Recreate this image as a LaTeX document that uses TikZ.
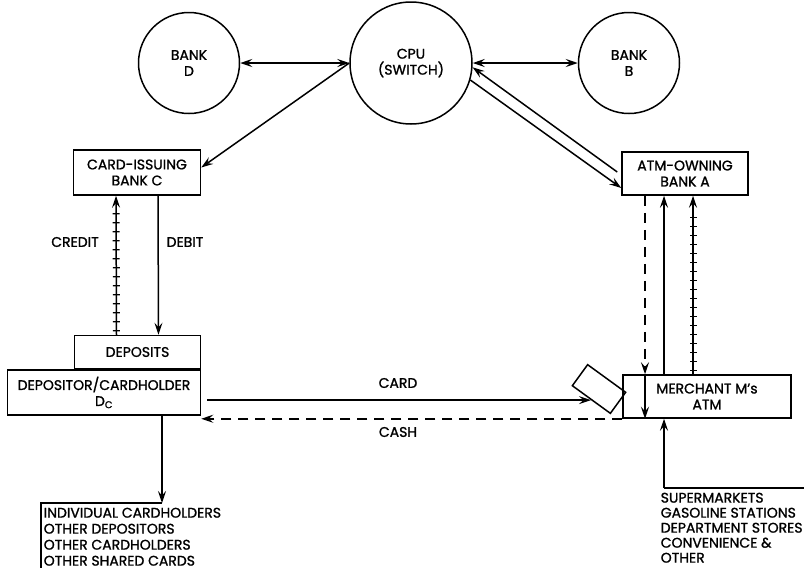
\documentclass[tikz,border=0pt]{standalone}
\usepackage{fontspec}
\setmainfont{Poppins}[FakeBold=1.2]
\usetikzlibrary{arrows.meta,positioning,calc,decorations.markings}

\begin{document}
\begin{tikzpicture}[x=1pt,y=-1pt,line width=1.5pt,
  >={Stealth[length=12pt,width=8pt,inset=4.5pt]},
  font=\fontsize{14}{16}\selectfont,
  bank/.style={circle,draw,minimum size=101pt,align=center,inner sep=0pt},
  box/.style={rectangle,draw,align=center,inner sep=0pt},
  ticked/.style={postaction={decorate},decoration={markings,
    mark=between positions 4pt and -14pt step 9pt with {\draw[-,line width=1.2pt] (0,-3.5pt)--(0,3.5pt);}}},
  cashline/.style={dash pattern=on 10pt off 7pt},
  listing/.style={align=left,anchor=north west,inner sep=0pt}]
  \useasboundingbox (0,0) rectangle (804,571);
  % switch and the other banks
  \node[bank,minimum size=122pt] (cpu) at (411,63) {CPU\\(SWITCH)};
  \node[bank] (bankD) at (189,63) {BANK\\D};
  \node[bank] (bankB) at (629,63) {BANK\\B};
  \node[box,minimum width=127pt,minimum height=45pt] (issuer) at (137,172.5) {CARD-ISSUING\\BANK C};
  \node[box,minimum width=126pt,minimum height=43pt] (atmbank) at (685,173.5) {ATM-OWNING\\BANK A};
  % cardholder side
  \node[box,minimum width=193pt,minimum height=45pt] (holder) at (104,392.5) {DEPOSITOR/CARDHOLDER\\D\textsubscript{C}};
  \node[box,minimum width=126pt,minimum height=33pt,anchor=south east] (deposits) at (holder.north east) {DEPOSITS};
  \node[box,minimum width=168pt,minimum height=43pt] (merchant) at (707,396.5) {MERCHANT M's\\ATM};
  \node[draw,minimum width=47pt,minimum height=26pt,rotate=-36,inner sep=0pt] (card) at (599,389) {};
  % labels
  \node (credit) at (75,242) {CREDIT};
  \node (debit) at (185,242) {DEBIT};
  \node (cardlbl) at (398,383) {CARD};
  \node (cashlbl) at (398,432) {CASH};
  \node[listing,font=\fontsize{14}{16}\selectfont] (users) at (43,507)
    {INDIVIDUAL CARDHOLDERS\\OTHER DEPOSITORS\\OTHER CARDHOLDERS\\OTHER SHARED CARDS};
  \node[listing,font=\fontsize{14}{15}\selectfont] (shops) at (660,492)
    {SUPERMARKETS\\GASOLINE STATIONS\\DEPARTMENT STORES\\CONVENIENCE \&\\OTHER};

  % network links
  \draw[<->] (bankD) -- (cpu);
  \draw[<->] (cpu) -- (bankB);
  \draw[->] (cpu.west) -- ($(issuer.east)+(0,-5)$);
  \draw[<-] (cpu.-4) -- ($(atmbank.west)+(-4,-1.5)$);
  \draw[->] (cpu.-16) -- ($(atmbank.west)+(0,14.5)$);
  % bank C and depositor
  \draw[->,ticked] ($(deposits.north)+(-21,0)$) -- ($(issuer.south)+(-21,0)$);
  \draw[->] ($(issuer.south)+(21,0)$) -- ($(deposits.north)+(21,0)$);
  \draw[->,shorten <=6pt] (holder.east |- card.south) -- (card.south);
  \draw[->,cashline] (merchant.south west) -- (merchant.south west -| holder.east);
  % bank A and the ATM
  \draw[->,cashline] ($(atmbank.south)+(-40,0)$) coordinate (cashdown) -- (cashdown |- merchant.north);
  \draw[->] (cashdown |- merchant.north) -- (cashdown |- merchant.south);
  \draw[->] ($(merchant.north)+(-43,0)$) coordinate (debitup) -- (debitup |- atmbank.south);
  \draw[->,ticked] ($(merchant.north)+(-14,0)$) coordinate (creditup) -- (creditup |- atmbank.south);
  % users and shops
  \coordinate (userbend) at (162,503);
  \coordinate (usercorner) at (41,503);
  \coordinate (userfoot) at (41,568);
  \draw[->] (userbend |- holder.south) -- (userbend);
  \draw (userbend) -- (usercorner) -- (userfoot);
  \coordinate (shopbend) at (664,488);
  \coordinate (shopend) at (804,488);
  \draw[->] (shopbend) -- (shopbend |- merchant.south);
  \draw (shopbend) -- (shopend);
\end{tikzpicture}
\end{document}
